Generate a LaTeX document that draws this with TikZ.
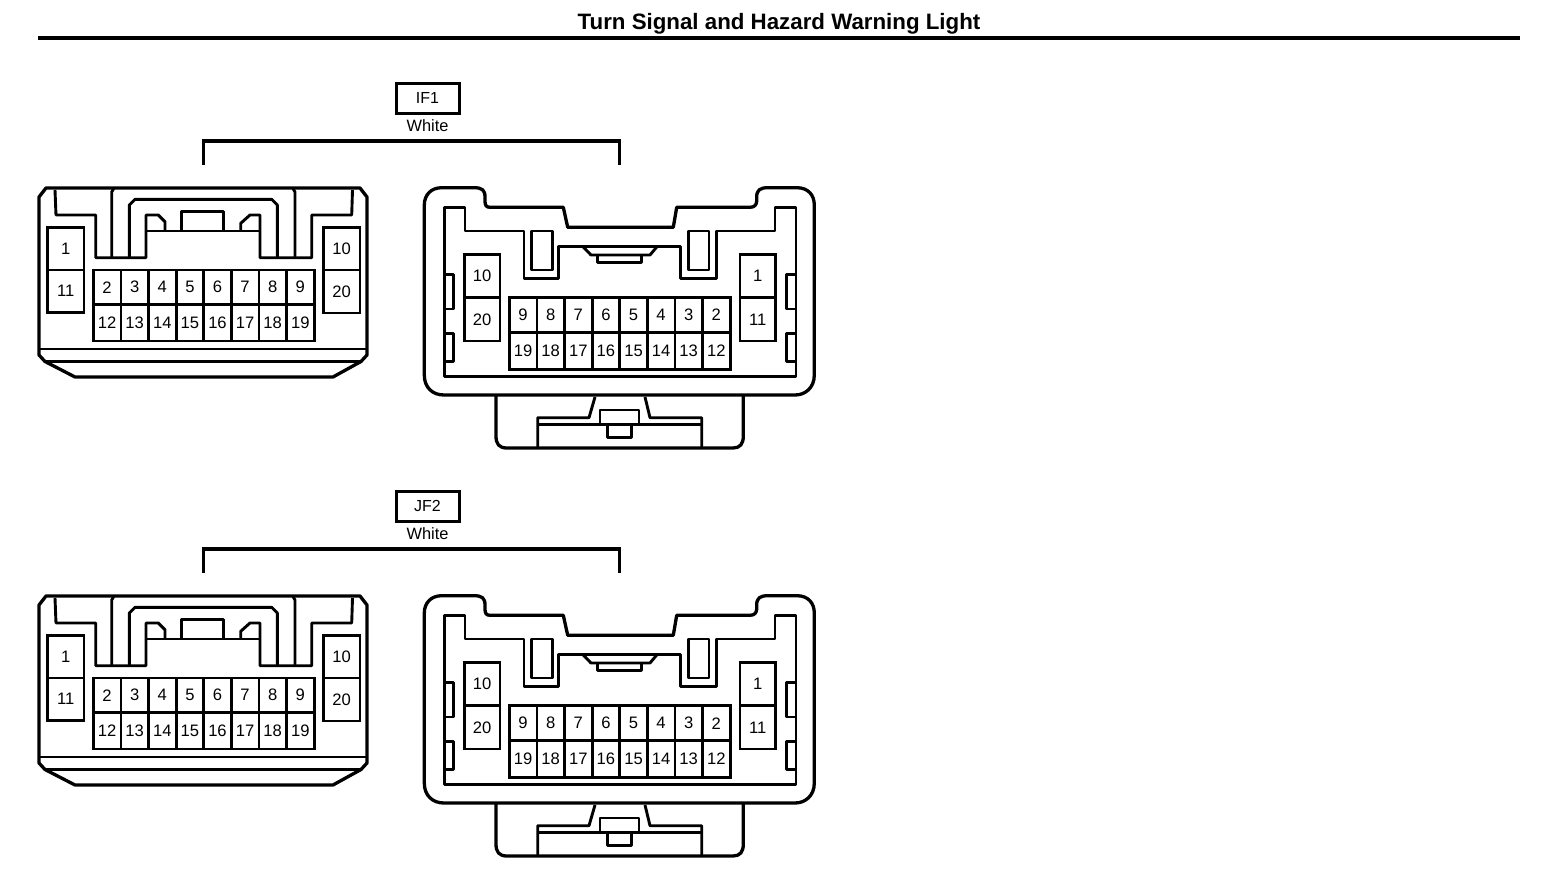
\documentclass[tikz,border=0pt]{standalone}
\usepackage{fontspec}
\setmainfont{Liberation Sans}
\tikzset{
    heavy/.style={line width=3.3pt,line join=round},
    medium/.style={line width=2.9pt,line join=round},
    pinbox/.style={draw,line width=2.8pt,inner sep=0pt,font=\fontsize{16.6}{17}\selectfont,minimum width=#1},
    pinbox/.default=27.6pt,
    codebox/.style={draw,line width=3pt,minimum width=63pt,minimum height=30pt,inner sep=0pt,font=\fontsize{16}{16}\selectfont},
    colorlabel/.style={inner sep=0pt,font=\fontsize{16.4}{16}\selectfont},
    % left view of the connector
    plugfront/.pic={
        % outer shell
        \draw[heavy] (39,197) -- (46,188) -- (360,188) -- (367,197) -- (367,355) -- (361,361.5)
            -- (333,377) -- (75,377) -- (45,361.5) -- (39,355) -- cycle;
        \draw[medium] (39,349) -- (367,349);
        \draw[medium] (45,361.5) -- (361,361.5);
        % inner profile
        \draw[medium] (55,190) -- (56,215) -- (95.7,215) -- (95.7,257.7) -- (146,257.7) -- (146,215)
            -- (158.3,215) -- (165,221.7) -- (165,231);
        \draw[medium] (352.5,190) -- (351.7,215) -- (311.7,215) -- (311.7,257.7) -- (260,257.7) -- (260,215)
            -- (250,215) -- (240.7,223.3) -- (240.7,231);
        \draw[medium] (146,231) -- (260,231);
        \draw[medium] (181.7,231) -- (181.7,211.7) -- (223.3,211.7) -- (223.3,231);
        \draw[medium] (111.7,257.7) -- (111.7,192) -- (114,188);
        \draw[medium] (295,257.7) -- (295,192) -- (292.7,188);
        \draw[medium] (129.3,257.7) -- (129.3,205) -- (135,199.3) -- (271.7,199.3) -- (277.3,205) -- (277.3,257.7);
        % side pins
        \node[pinbox=36.7pt,minimum height=42.5pt] (p1) at (65.7,248.8) {1};
        \node[pinbox=36.7pt,minimum height=42.5pt] (p11) at (65.7,291.2) {11};
        \node[pinbox=36.7pt,minimum height=42.5pt] (p10) at (341.7,248.8) {10};
        \node[pinbox=36.7pt,minimum height=43pt] (p20) at (341.7,291.5) {20};
        % pin rows
        \foreach \n [count=\i from 0] in {2,...,9}
            \node[pinbox,minimum height=34.3pt] (p\n) at (107.1+27.6*\i,287.2) {\n};
        \foreach \n [count=\i from 0] in {12,...,19}
            \node[pinbox,minimum height=36.7pt] (p\n) at (107.1+27.6*\i,322.7) {\n};
    },
    % right view of the connector
    plugrear/.pic={
        % outer shell
        \draw[heavy] (441.7,187.7) -- (474,187.7) .. controls (482,187.7) and (485,190) .. (485,197)
            -- (485,201) .. controls (485,205) and (486,207.3) .. (490,207.3) -- (563.3,207.3)
            -- (567.7,227.3) -- (673.3,227.3) -- (676.7,207.3) -- (750,207.3)
            .. controls (754,207.3) and (756.7,205) .. (756.7,201) -- (756.7,197)
            .. controls (756.7,190) and (760,187.7) .. (768,187.7) -- (797,187.7)
            .. controls (808,187.7) and (814.3,195) .. (814.3,205) -- (814.3,375)
            .. controls (814.3,388) and (805,395) .. (795,395) -- (444,395)
            .. controls (433,395) and (424.3,388) .. (424.3,375) -- (424.3,205)
            .. controls (424.3,195) and (431,187.7) .. cycle;
        % inner profile
        \draw[medium] (465,207.3) -- (444.3,207.3) -- (444.3,376.7) -- (796,376.7) -- (796,207.3) -- (775,207.3)
            -- (775,231) -- (716.7,231) -- (716.7,278.3) -- (680.7,278.3) -- (680.7,246.7) -- (558.3,246.7)
            -- (558.3,278.3) -- (524,278.3) -- (524,231) -- (465,231) -- cycle;
        \draw[medium] (531.7,231) rectangle (552.3,270);
        \draw[medium] (688.3,231) rectangle (709,270);
        % centre latch
        \draw[medium] (583.3,247) -- (591,255) -- (650,255) -- (656.7,247);
        \draw[medium] (597.7,255) -- (597.7,262.7) -- (641.7,262.7) -- (641.7,255);
        % side tabs
        \foreach \a/\b in {274.3/309,333.3/361.7} {
            \draw[medium] (444.3,\a) -- (453.3,\a) -- (453.3,\b) -- (444.3,\b);
            \draw[medium] (796,\a) -- (786.7,\a) -- (786.7,\b) -- (796,\b);
        }
        % lower lock
        \draw[heavy] (496,395) -- (496,436) .. controls (496,444) and (499,448) .. (507,448) -- (733,448)
            .. controls (740,448) and (743.3,444) .. (743.3,436) -- (743.3,395);
        \draw[medium] (537.7,448) -- (537.7,417.7) -- (589,417.7) -- (595,397);
        \draw[medium] (645,397) -- (650,417.7) -- (701.7,417.7) -- (701.7,448);
        \draw[medium] (537.7,424.3) -- (701.7,424.3);
        \draw[medium] (600,424.3) -- (600,410) -- (639,410) -- (639,424.3);
        \draw[medium] (607.7,424.3) -- (607.7,437.7) -- (631.7,437.7) -- (631.7,424.3);
        % side pins
        \node[pinbox=35.7pt,minimum height=43.4pt] (p10) at (482.2,276) {10};
        \node[pinbox=35.7pt,minimum height=43.3pt] (p20) at (482.2,319.3) {20};
        \node[pinbox=35.7pt,minimum height=43.4pt] (p1) at (757.8,276) {1};
        \node[pinbox=35.7pt,minimum height=43.3pt] (p11) at (757.8,319.3) {11};
        % pin rows
        \foreach \n [count=\i from 0] in {9,8,...,2}
            \node[pinbox,minimum height=35pt] (p\n) at (523.1+27.6*\i,315.2) {\n};
        \foreach \n [count=\i from 0] in {19,18,...,12}
            \node[pinbox,minimum height=36.6pt] (p\n) at (523.1+27.6*\i,351) {\n};
    },
    % code box, colour and bracket over both views
    plugheader/.pic={
        \node[codebox] (code) at (427.5,98.3) {\tikzpictext};
        \node[colorlabel] (color) at (427.5,125.5) {White};
        \coordinate (bl) at (203.4,165);
        \coordinate (br) at (619.4,165);
        \draw[heavy,line join=miter] (bl) -- (203.4,141) -- (619.4,141) -- (br);
    }
}
\begin{document}
\begin{tikzpicture}[x=1pt,y=-1pt]
    \useasboundingbox (0,0) rectangle (1568,878);

    % title
    \node[font=\bfseries\fontsize{22.3}{23}\selectfont,inner sep=0pt] (title) at (779,23.5) {Turn Signal and Hazard Warning Light};
    \coordinate (ruleL) at (38,38);
    \coordinate (ruleR) at (1520,38);
    \draw[line width=3.3pt] (ruleL) -- (ruleR);

    % IF1
    \pic[pic text=IF1] (ifh) at (0,0) {plugheader};
    \pic (ifa) at (0,0) {plugfront};
    \pic (ifb) at (0,0) {plugrear};

    % JF2
    \pic[pic text=JF2] (jfh) at (0,408) {plugheader};
    \pic (jfa) at (0,408) {plugfront};
    \pic (jfb) at (0,408) {plugrear};
\end{tikzpicture}
\end{document}
